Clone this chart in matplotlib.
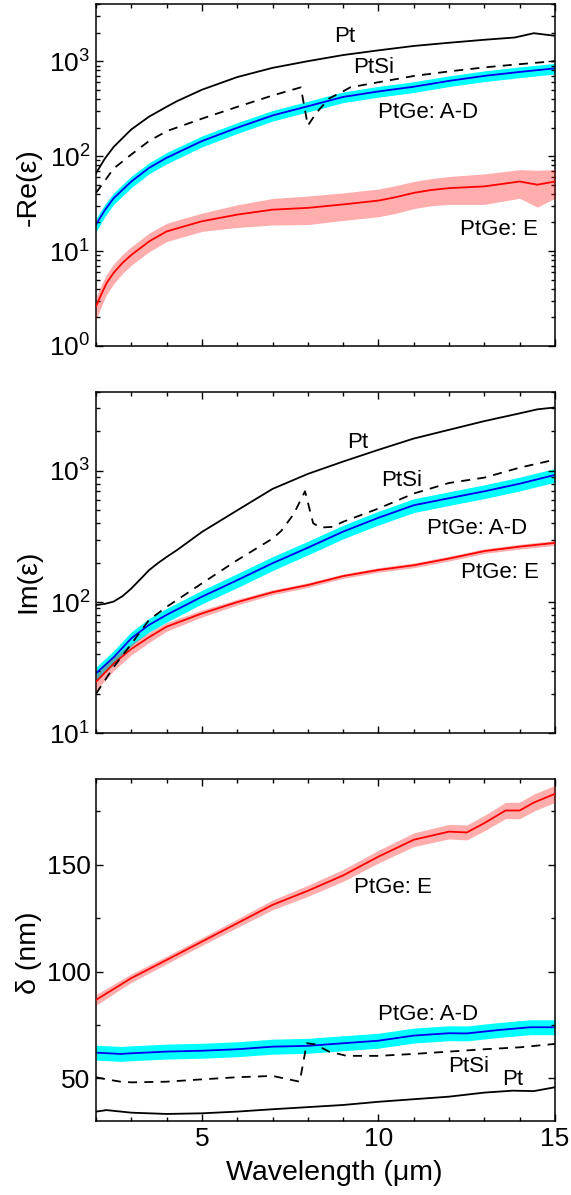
import numpy as np
import matplotlib
matplotlib.use("Agg")
import matplotlib.pyplot as plt
from matplotlib.ticker import MultipleLocator, LogLocator, NullFormatter, FuncFormatter

plt.rcParams['font.family'] = ['Liberation Sans', 'DejaVu Sans']
plt.rcParams['mathtext.fontset'] = 'custom'
plt.rcParams['mathtext.rm'] = 'Liberation Sans'
plt.rcParams['mathtext.default'] = 'regular'

# ---------------- data: -Re(eps) ----------------
re_pt_x = [2.0, 2.25, 2.5, 3.0, 3.5, 4.0, 4.3, 5.0, 6.0, 7.0, 8.0, 9.0, 10.0, 11.0, 12.0, 13.0, 13.86, 14.4, 15.0]
re_pt_y = [66, 94, 125, 191, 260, 331, 380, 500, 680, 850, 1000, 1160, 1300, 1446, 1563, 1680, 1775, 1970, 1850]

re_ptsi_x = [2.0, 2.25, 2.5, 3.0, 3.5, 4.0, 5.0, 6.0, 7.0, 7.8, 8.0, 8.25, 8.6, 9.0, 9.2, 10.0, 11.0, 12.0, 13.0, 14.0, 15.0]
re_ptsi_y = [41, 55, 74, 104, 144, 183, 248, 330, 435, 530, 210, 288, 404, 481, 530, 600, 698, 780, 860, 930, 1000]

re_ad_x = [2.0, 2.25, 2.5, 3.0, 3.5, 4.0, 5.0, 6.0, 7.0, 8.0, 9.0, 10.0, 11.0, 12.0, 13.0, 14.0, 15.0]
re_ad_y = [19, 27, 36, 54, 75, 96, 144, 199, 268, 335, 420, 480, 538, 620, 700, 770, 840]
re_ad_err = [3, 4, 5, 7.5, 10, 13, 19, 26, 34, 43, 54, 62, 70, 80, 90, 100, 108]

re_e_x = [2.0, 2.15, 2.3, 2.5, 2.75, 3.0, 3.5, 4.0, 5.0, 6.0, 7.0, 8.0, 9.0, 10.0, 10.5, 11.0, 11.5, 12.0, 13.0, 14.0, 14.5, 15.0]
re_e_y = [2.6, 3.5, 4.6, 5.9, 7.5, 9.1, 12.6, 16.1, 20.6, 24.2, 27.3, 28.5, 31, 34, 37, 41, 44, 46, 48, 54, 50, 54]
re_e_err = [0.7, 0.9, 1.1, 1.4, 1.7, 2.0, 2.8, 3.5, 4.5, 6.5, 8.5, 9.5, 10, 11, 12, 13, 14, 15, 17, 18, 21, 18]

# ---------------- data: Im(eps) ----------------
im_pt_x = [2.0, 2.25, 2.5, 2.75, 3.0, 3.25, 3.5, 3.75, 4.0, 4.3, 5.0, 6.0, 7.0, 8.0, 9.0, 10.0, 11.0, 12.0, 13.0, 14.0, 14.5, 15.0]
im_pt_y = [95, 97, 101, 111, 127, 149, 175, 198, 221, 250, 343, 501, 730, 950, 1180, 1450, 1767, 2060, 2400, 2750, 2950, 3050]

im_ptsi_x = [2.0, 2.5, 3.0, 3.5, 4.0, 5.0, 6.0, 7.0, 7.25, 7.6, 7.92, 8.15, 8.35, 8.7, 9.0, 10.0, 11.0, 12.0, 13.0, 14.0, 15.0]
im_ptsi_y = [20, 32, 48, 73, 92, 139, 209, 305, 350, 470, 700, 400, 370, 375, 410, 517, 673, 810, 890, 1060, 1220]

im_ad_x = [2.0, 2.5, 3.0, 3.5, 4.0, 5.0, 6.0, 7.0, 8.0, 9.0, 10.0, 11.0, 12.0, 13.0, 14.0, 15.0]
im_ad_y = [28.6, 38, 53, 67, 80, 110, 147, 198, 260, 345, 440, 548, 620, 700, 800, 933]
im_ad_err = [3.4, 4.6, 6.4, 8, 9.6, 13, 18, 24, 31, 41, 53, 66, 74, 84, 96, 112]

im_e_x = [2.0, 2.5, 3.0, 3.5, 4.0, 5.0, 6.0, 7.0, 8.0, 9.0, 10.0, 11.0, 12.0, 13.0, 14.0, 15.0]
im_e_y = [24.7, 34, 44, 54, 65, 82, 100, 119, 135, 158, 176, 191, 215, 245, 265, 283]
im_e_err = [3.5, 4, 4.4, 4.8, 5, 5, 5, 5, 5.5, 6, 7, 8, 9, 10, 11, 12]

# ---------------- data: skin depth delta (nm) ----------------
d_pt_x = [2.0, 2.3, 3.0, 4.0, 5.0, 6.0, 7.0, 8.0, 9.0, 10.0, 11.0, 12.0, 13.0, 13.8, 14.4, 15.0]
d_pt_y = [34.4, 35.1, 33.9, 33.3, 33.6, 34.4, 35.5, 36.5, 37.5, 39.0, 40.2, 41.4, 43.3, 44.2, 44.0, 45.8]

d_ptsi_x = [2.0, 2.3, 2.7, 3.0, 4.0, 5.0, 6.0, 7.0, 7.77, 7.97, 8.2, 8.6, 9.1, 10.0, 11.0, 12.0, 13.0, 14.0, 15.0]
d_ptsi_y = [50.5, 49.5, 48.4, 48.1, 48.4, 49.5, 50.5, 51.1, 48.4, 66.4, 65.9, 62.5, 60.5, 60.5, 61.4, 62.5, 63.6, 64.5, 66.1]

d_ad_x = [2.0, 2.7, 3.0, 4.0, 5.0, 6.0, 7.0, 8.0, 9.0, 10.0, 11.0, 12.0, 12.5, 13.4, 14.3, 15.0]
d_ad_y = [62.0, 61.4, 61.7, 62.5, 62.9, 63.6, 64.8, 65.2, 66.4, 67.6, 70.0, 71.1, 71.0, 72.6, 73.9, 73.9]
d_ad_err = [3.5] * 16

d_e_x = [2.0, 3.0, 4.0, 5.0, 6.0, 7.0, 8.0, 9.0, 10.0, 11.0, 12.0, 12.5, 13.0, 13.6, 14.0, 14.4, 15.0]
d_e_y = [86.7, 96.9, 105.4, 114.0, 122.6, 131.2, 137.8, 145.0, 153.8, 161.7, 165.5, 165.1, 169.5, 175.4, 175.4, 179.1, 183.2]
d_e_err = [2.5, 2.0, 1.8, 1.8, 2.0, 2.3, 2.6, 2.8, 3.0, 3.2, 3.4, 3.5, 3.6, 3.8, 3.9, 4.0, 4.0]

labels = ["Pt", "PtSi", "PtGe: A-D", "PtGe: E"]
ylabels = ["-Re(ε)", "Im(ε)", "δ (nm)"]
xlabel = "Wavelength (μm)"

# label positions (x, y) per panel, in data units
lab_pos_re = [(9.05, 1820), (9.85, 860), (11.4, 287), (13.4, 16.8)]
lab_pos_im = [(9.4, 1660), (10.65, 850), (12.8, 364), (13.45, 167)]
lab_pos_d = [(13.8, 49.5), (12.55, 55.4), (11.4, 79.7), (10.4, 139.5)]

BLUE = '#0000ee'
CYAN = '#00ffff'
RED = '#ff0000'

fig = plt.figure(figsize=(5.71, 11.95), dpi=100)
W, H = 571.0, 1195.0
L, R = 96 / W, 555 / W
boxes = [(4, 346), (392, 733.3), (779.3, 1121)]

panels = [
    dict(pt=(re_pt_x, re_pt_y), si=(re_ptsi_x, re_ptsi_y), ad=(re_ad_x, re_ad_y, re_ad_err),
         e=(re_e_x, re_e_y, re_e_err), log=True, ylim=(1, 4000), lab=lab_pos_re),
    dict(pt=(im_pt_x, im_pt_y), si=(im_ptsi_x, im_ptsi_y), ad=(im_ad_x, im_ad_y, im_ad_err),
         e=(im_e_x, im_e_y, im_e_err), log=True, ylim=(10, 4000), lab=lab_pos_im),
    dict(pt=(d_pt_x, d_pt_y), si=(d_ptsi_x, d_ptsi_y), ad=(d_ad_x, d_ad_y, d_ad_err),
         e=(d_e_x, d_e_y, d_e_err), log=False, ylim=(30, 190), lab=lab_pos_d),
]
ylab_y = [0.466, 0.446, 0.493]

def log_fmt(v, pos):
    e = int(round(np.log10(v)))
    return r'$10^{%d}$' % e

for i, (p, (top, bot)) in enumerate(zip(panels, boxes)):
    ax = fig.add_axes([L, 1 - bot / H, R - L, (bot - top) / H])
    ax_x, ax_y, ax_err = [np.array(a, dtype=float) for a in p['ad']]
    ax.fill_between(ax_x, ax_y - ax_err, ax_y + ax_err, color=CYAN, lw=0, zorder=1)
    ax.plot(ax_x, ax_y, color=BLUE, lw=1.3, zorder=2)
    ex, ey, ee = [np.array(a, dtype=float) for a in p['e']]
    ax.fill_between(ex, ey - ee, ey + ee, color=RED, alpha=0.32, lw=0, zorder=3)
    ax.plot(ex, ey, color=RED, lw=1.3, zorder=4)
    ax.plot(*p['si'], color='black', lw=1.3, ls=(0, (5, 4)), zorder=5)
    ax.plot(*p['pt'], color='black', lw=1.3, zorder=5)

    ax.set_xlim(2, 15)
    if p['log']:
        ax.set_yscale('log')
        ax.yaxis.set_major_locator(LogLocator(base=10, numticks=10))
        ax.yaxis.set_minor_locator(LogLocator(base=10, subs=np.arange(2, 10), numticks=10))
        ax.yaxis.set_major_formatter(FuncFormatter(log_fmt))
        ax.yaxis.set_minor_formatter(NullFormatter())
    else:
        ax.yaxis.set_major_locator(MultipleLocator(50))
        ax.yaxis.set_minor_locator(MultipleLocator(25))
    ax.set_ylim(*p['ylim'])
    ax.xaxis.set_major_locator(MultipleLocator(5))
    ax.xaxis.set_minor_locator(MultipleLocator(1))
    ax.tick_params(which='both', direction='in', top=True, right=True, width=1.0)
    ax.tick_params(which='major', length=5, labelsize=19, pad=4)
    ax.tick_params(which='minor', length=3)
    for s in ax.spines.values():
        s.set_linewidth(1.1)
    if i < 2:
        ax.tick_params(labelbottom=False)
    else:
        ax.set_xlabel(xlabel, fontsize=20.5)
        ax.xaxis.set_label_coords(0.52, -0.115)
    ax.set_ylabel(ylabels[i], fontsize=20.5)
    ax.yaxis.set_label_coords(-0.118, ylab_y[i])

    for name, (lx, ly) in zip(labels, p['lab']):
        ax.text(lx, ly, name, fontsize=16, ha='center', va='center', zorder=6)

fig.savefig('out.png', dpi=100)
